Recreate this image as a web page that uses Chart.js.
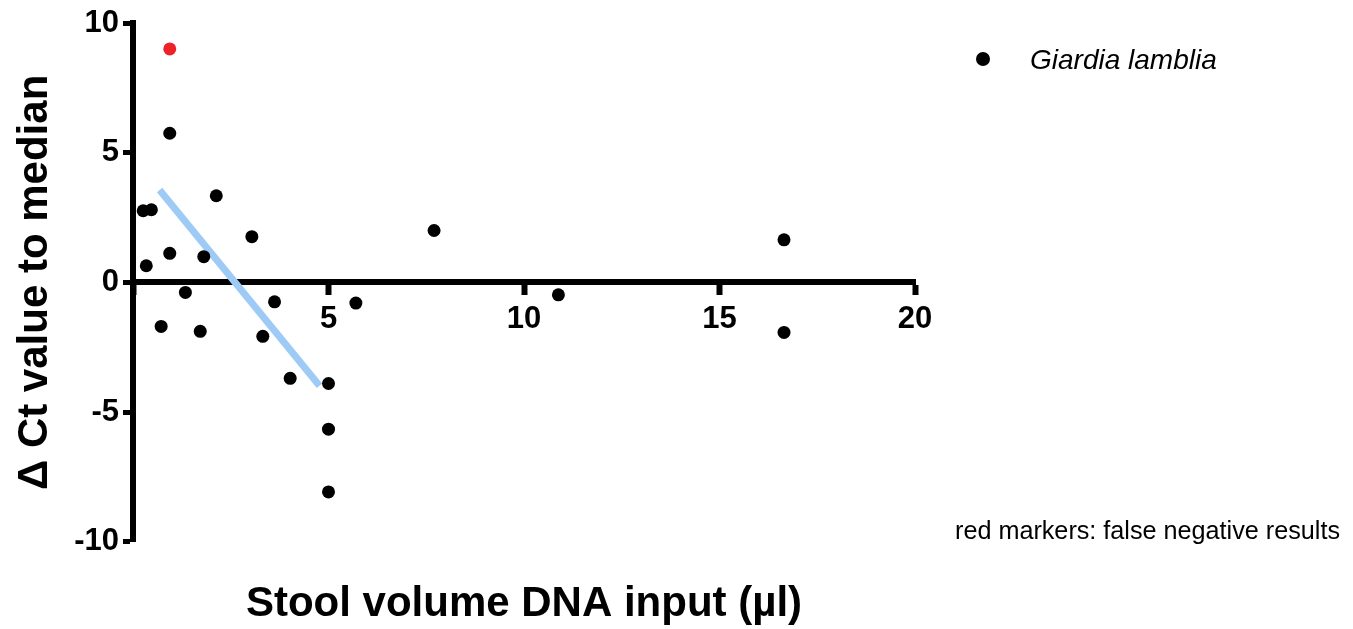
<!DOCTYPE html>
<html>
<head>
<meta charset="utf-8">
<script src="https://cdn.jsdelivr.net/npm/chart.js@4.4.1/dist/chart.umd.min.js"></script>
<style>
  html, body { margin: 0; padding: 0; background: #fff; }
  #wrap { position: relative; width: 1353px; height: 629px; overflow: hidden; }
  #c { position: absolute; left: 0; top: 0; }
  .txt { position: absolute; font-family: "Liberation Sans", Arial, sans-serif; color: #000; white-space: nowrap; }
  #legend { left: 970px; top: 46px; font-size: 28px; line-height: 28px; font-style: italic; }
  #legend .dot { position: absolute; left: 6px; top: 6px; width: 14px; height: 14px; border-radius: 50%; background: #000; }
  #legend .lab { position: absolute; left: 60px; top: 0; }
  #note { left: 955px; top: 518px; font-size: 25.2px; line-height: 25px; }
</style>
</head>
<body>
<div id="wrap">
  <canvas id="c" width="1353" height="629"></canvas>
  <div id="legend" class="txt"><span class="dot"></span><span class="lab" id="legLab"></span></div>
  <div id="note" class="txt"></div>
</div>
<script>
// ---- data ----
const seriesLabel = "Giardia lamblia";
const noteText = "red markers: false negative results";
const xTitle = "Stool volume DNA input (\u00b5l)";
const yTitle = "\u0394 Ct value to median";

const xTicks = [0, 5, 10, 15, 20];
const yTicks = [-10, -5, 0, 5, 10];

const stoolVolume = [0.26, 0.47, 0.34, 0.94, 0.94, 0.72, 1.34, 1.72, 1.81, 2.13, 3.04, 3.32, 3.62, 4.02, 5.0, 5.0, 5.0, 5.70, 7.70, 10.88, 16.65, 16.65];
const deltaCt     = [2.76, 2.80, 0.64, 5.75, 1.12, -1.70, -0.39, -1.89, 0.99, 3.34, 1.76, -2.08, -0.75, -3.70, -3.90, -5.66, -8.08, -0.80, 2.00, -0.48, 1.64, -1.93];

const falseNegVolume = [0.94];
const falseNegDeltaCt = [9.0];

const fitX = [0.68, 4.77];
const fitY = [3.56, -3.99];

// ---- chart ----
document.getElementById('legLab').textContent = seriesLabel;
document.getElementById('note').textContent = noteText;

const FONT = '"Liberation Sans", Arial, sans-serif';
const toPts = (xs, ys) => xs.map((x, i) => ({ x: x, y: ys[i] }));

new Chart(document.getElementById('c').getContext('2d'), {
  type: 'scatter',
  data: {
    datasets: [
      {
        type: 'line',
        label: 'fit',
        data: toPts(fitX, fitY),
        borderColor: '#9dcbf6',
        borderWidth: 7,
        borderCapStyle: 'butt',
        pointRadius: 0,
        fill: false,
        order: 3
      },
      {
        label: seriesLabel,
        data: toPts(stoolVolume, deltaCt),
        backgroundColor: '#000000',
        borderWidth: 0,
        pointRadius: 6.5,
        order: 2
      },
      {
        label: 'false negative',
        data: toPts(falseNegVolume, falseNegDeltaCt),
        backgroundColor: '#ee2229',
        borderWidth: 0,
        pointRadius: 6.5,
        order: 1
      }
    ]
  },
  options: {
    responsive: false,
    animation: false,
    devicePixelRatio: 1,
    layout: { padding: { left: 0, top: 23, right: 438, bottom: 0 } },
    plugins: {
      legend: { display: false },
      tooltip: { enabled: false },
      title: {
        display: true,
        text: xTitle,
        position: 'bottom',
        fullSize: false,
        color: '#000',
        font: { family: FONT, size: 42, weight: 'bold', lineHeight: 1.15 },
        padding: { top: 39, bottom: 0 }
      }
    },
    scales: {
      x: {
        type: 'linear',
        position: { y: 0 },
        min: 0,
        max: 20,
        afterBuildTicks: s => { s.ticks = xTicks.map(v => ({ value: v })); },
        ticks: {
          callback: v => (v === 0 ? '' : String(v)),
          color: '#000',
          font: { family: FONT, size: 31, weight: 'bold' },
          padding: 9,
          maxRotation: 0,
          autoSkip: false
        },
        grid: { drawOnChartArea: false, tickLength: 10, tickWidth: 6, tickColor: '#000' },
        border: { display: true, color: '#000', width: 6 }
      },
      y: {
        type: 'linear',
        position: 'left',
        min: -10,
        max: 10,
        afterBuildTicks: s => { s.ticks = yTicks.map(v => ({ value: v })); },
        ticks: {
          color: '#000',
          font: { family: FONT, size: 31, weight: 'bold' },
          padding: 4,
          autoSkip: false
        },
        grid: { drawOnChartArea: false, tickLength: 10, tickWidth: 5, tickColor: '#000' },
        border: { display: true, color: '#000', width: 6 },
        title: {
          display: true,
          text: yTitle,
          color: '#000',
          font: { family: FONT, size: 42, weight: 'bold', lineHeight: 1.2 },
          padding: { top: 10, bottom: 0 }
        },
        afterFit: s => { s.width = 133; }
      }
    }
  }
});
</script>
</body>
</html>
